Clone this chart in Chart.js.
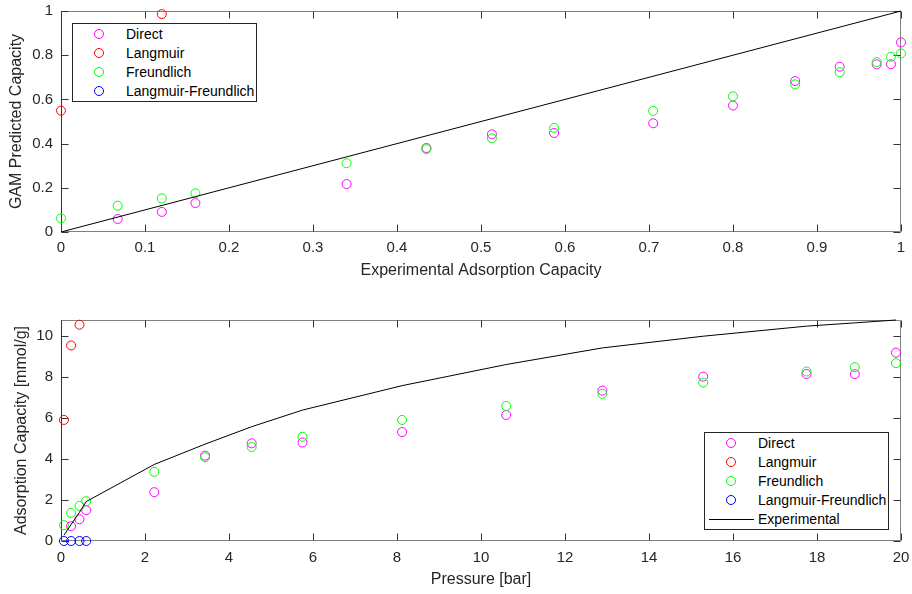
<!DOCTYPE html>
<html>
<head>
<meta charset="utf-8">
<script src="https://cdn.jsdelivr.net/npm/chart.js@4.4.1/dist/chart.umd.min.js"></script>
<style>
body{margin:0;background:#fff;}
#wrap{position:relative;width:912px;height:594px;font-family:"Liberation Sans",Arial,sans-serif;}
canvas{position:absolute;left:0;}
.legend{position:absolute;background:#fff;border:1px solid #262626;font-size:14px;color:#000;box-sizing:border-box;}
.legend .row{position:absolute;left:0;right:0;height:18px;line-height:18px;white-space:nowrap;}
.legend .mk{position:absolute;left:21px;top:4px;width:10px;height:10px;border:1px solid;border-radius:50%;box-sizing:border-box;}
.legend .ln{position:absolute;left:4px;top:9px;width:45px;height:0;border-top:1px solid #000;}
.legend .tx{position:absolute;left:53px;top:0;}
</style>
</head>
<body>
<div id="wrap">
  <canvas id="topChart" width="912" height="292" style="top:0"></canvas>
  <canvas id="botChart" width="912" height="302" style="top:292px"></canvas>
</div>
<script>
// series names (legend order)
const seriesNames = ['Direct', 'Langmuir', 'Freundlich', 'Langmuir-Freundlich'];
const lineName = 'Experimental';

// top plot: normalized values, null = not visible
const topExp = [0, 0.0675, 0.12, 0.16, 0.34, 0.435, 0.513, 0.587, 0.705, 0.80, 0.874, 0.927, 0.971, 0.988, 1.0];
const topDirect = [null, 0.059, 0.091, 0.131, 0.217, 0.380, 0.442, 0.448, 0.492, 0.572, 0.683, 0.748, 0.759, 0.759, 0.858];
const topLangmuir = [0.549, null, 0.986, null, null, null, null, null, null, null, null, null, null, null, null];
const topFreundlich = [0.062, 0.119, 0.152, 0.175, 0.311, 0.375, 0.424, 0.471, 0.548, 0.614, 0.668, 0.723, 0.769, 0.793, 0.808];
const topLangFreund = [];
const topLineX = [0, 1];
const topLineY = [0, 1];
const topXTicks = [0, 0.1, 0.2, 0.3, 0.4, 0.5, 0.6, 0.7, 0.8, 0.9, 1];
const topYTicks = [0, 0.2, 0.4, 0.6, 0.8, 1];

// bottom plot: pressure [bar] vs capacity [mmol/g]
const pressure = [0.07, 0.24, 0.44, 0.6, 2.22, 3.43, 4.54, 5.75, 8.12, 10.6, 12.89, 15.29, 17.75, 18.9, 19.88];
const botDirect = [null, 0.72, 1.06, 1.5, 2.38, 4.16, 4.76, 4.8, 5.31, 6.14, 7.33, 8.01, 8.14, 8.13, 9.18];
const botLangmuir = [5.9, 9.53, 10.54, null, null, null, null, null, null, null, null, null, null, null, null];
const botFreundlich = [0.77, 1.37, 1.71, 1.94, 3.37, 4.08, 4.58, 5.08, 5.9, 6.58, 7.17, 7.72, 8.26, 8.47, 8.67];
const botLangFreund = [0, 0, 0, 0, null, null, null, null, null, null, null, null, null, null, null];
const botExperimental = [0.28, 0.8, 1.4, 1.92, 3.73, 4.72, 5.57, 6.38, 7.57, 8.6, 9.41, 9.98, 10.47, 10.63, 10.77];
const botXTicks = [0, 2, 4, 6, 8, 10, 12, 14, 16, 18, 20];
const botYTicks = [0, 2, 4, 6, 8, 10];
const botYMax = 10.77;

const colors = ['#ff00ff', '#ff0000', '#00ff00', '#0000ff'];

Chart.defaults.font.family = "'Liberation Sans', Arial, sans-serif";
Chart.defaults.font.size = 15;
Chart.defaults.color = '#262626';

function pts(xs, ys) {
    let out = [];
    for (let i = 0; i < ys.length; i++) {
        if (ys[i] !== null) out.push({x: xs[i], y: ys[i]});
    }
    return out;
}

function markerSet(i, data) {
    return {
        label: seriesNames[i], data: data, showLine: false,
        pointStyle: 'circle', pointRadius: 4.5, pointHoverRadius: 4.5, pointBorderWidth: 1,
        pointBorderColor: colors[i], pointBackgroundColor: 'rgba(0,0,0,0)',
        borderColor: colors[i], backgroundColor: 'rgba(0,0,0,0)', clip: false
    };
}

function lineSet(data) {
    return {label: lineName, data: data, showLine: true, borderColor: '#000', borderWidth: 1,
        pointRadius: 0, tension: 0, fill: false, clip: false};
}

// box with inward ticks on all four sides, like matlab axes
const boxPlugin = {
    id: 'box',
    beforeDatasetsDraw(chart) {
        const ctx = chart.ctx, a = chart.chartArea;
        const sx = chart.scales.x, sy = chart.scales.y;
        const L = a.left + 0.5, R = a.right - 0.5, T = a.top + 0.5, B = a.bottom - 0.5;
        ctx.save();
        ctx.lineWidth = 1;
        function seg(x1, y1, x2, y2, c) {
            ctx.strokeStyle = c;
            ctx.beginPath(); ctx.moveTo(x1, y1); ctx.lineTo(x2, y2); ctx.stroke();
        }
        seg(L, T, R, T, '#808080');
        seg(R, T, R, B, '#808080');
        seg(L, B, R, B, '#808080');
        seg(L, T, L, B, '#333');
        sx.ticks.forEach((t, i) => {
            let p = Math.round(sx.getPixelForTick(i)) + 0.5;
            seg(p, B, p, B - 7, '#333');
            seg(p, T, p, T + 7, '#333');
        });
        sy.ticks.forEach((t, i) => {
            let p = Math.round(sy.getPixelForTick(i)) + 0.5;
            seg(L, p, L + 7, p, '#333');
            seg(R, p, R - 7, p, '#333');
        });
        ctx.restore();
    }
};

function makeChart(id, datasets, ax) {
    return new Chart(document.getElementById(id), {
        type: 'scatter',
        data: {datasets: datasets},
        plugins: [boxPlugin],
        options: {
            responsive: false, animation: false,
            layout: {padding: {top: ax.padTop, right: 11, left: 0, bottom: 0}},
            plugins: {legend: {display: false}, tooltip: {enabled: false}},
            scales: {
                x: {
                    type: 'linear', min: ax.xMin, max: ax.xMax,
                    grid: {display: false, drawTicks: false}, border: {display: false},
                    afterBuildTicks: s => { s.ticks = ax.xTicks.map(v => ({value: v})); },
                    afterFit: s => { s.height = ax.xH; s.paddingLeft = 0; s.paddingRight = 0; },
                    ticks: {padding: ax.xTickPad, maxRotation: 0, autoSkip: false, callback: v => String(v)},
                    title: {display: true, text: ax.xTitle, font: {size: 16}, padding: {top: 0, bottom: ax.xTitlePad}}
                },
                y: {
                    type: 'linear', min: ax.yMin, max: ax.yMax,
                    grid: {display: false, drawTicks: false}, border: {display: false},
                    afterBuildTicks: s => { s.ticks = ax.yTicks.map(v => ({value: v})); },
                    afterFit: s => { s.width = 61; s.paddingTop = 0; s.paddingBottom = 0; },
                    ticks: {padding: 8, callback: v => String(v)},
                    title: {display: true, text: ax.yTitle, font: {size: 16}, padding: {top: ax.yTitlePad, bottom: 0}}
                }
            }
        }
    });
}

makeChart('topChart', [
    lineSet(pts(topLineX, topLineY)),
    markerSet(3, pts(topExp, topLangFreund)),
    markerSet(2, pts(topExp, topFreundlich)),
    markerSet(1, pts(topExp, topLangmuir)),
    markerSet(0, pts(topExp, topDirect))
], {padTop: 11, xMin: 0, xMax: 1, yMin: 0, yMax: 1, xTicks: topXTicks, yTicks: topYTicks,
    xH: 60, xTickPad: 7, xTitlePad: 12, yTitlePad: 7,
    xTitle: 'Experimental Adsorption Capacity', yTitle: 'GAM Predicted Capacity'});

makeChart('botChart', [
    lineSet(pts(pressure, botExperimental)),
    markerSet(3, pts(pressure, botLangFreund)),
    markerSet(2, pts(pressure, botFreundlich)),
    markerSet(1, pts(pressure, botLangmuir)),
    markerSet(0, pts(pressure, botDirect))
], {padTop: 28, xMin: 0, xMax: 20, yMin: 0, yMax: botYMax, xTicks: botXTicks, yTicks: botYTicks,
    xH: 53, xTickPad: 8, xTitlePad: 5, yTitlePad: 12,
    xTitle: 'Pressure [bar]', yTitle: 'Adsorption Capacity [mmol/g]'});

// legends drawn as html boxes inside the plots
function buildLegend(left, top, width, height, withLine) {
    let box = document.createElement('div');
    box.className = 'legend';
    box.style.left = left + 'px'; box.style.top = top + 'px';
    box.style.width = width + 'px'; box.style.height = height + 'px';
    let names = seriesNames.slice();
    if (withLine) names.push(lineName);
    names.forEach((name, i) => {
        let row = document.createElement('div');
        row.className = 'row';
        row.style.top = (1 + i * 19) + 'px';
        let mark = document.createElement('span');
        if (i < seriesNames.length) {
            mark.className = 'mk';
            mark.style.borderColor = colors[i];
        } else {
            mark.className = 'ln';
        }
        let txt = document.createElement('span');
        txt.className = 'tx';
        txt.textContent = name;
        row.appendChild(mark);
        row.appendChild(txt);
        box.appendChild(row);
    });
    document.getElementById('wrap').appendChild(box);
}

buildLegend(72, 23, 185, 79, false);
buildLegend(704, 432, 185, 98, true);
</script>
</body>
</html>
